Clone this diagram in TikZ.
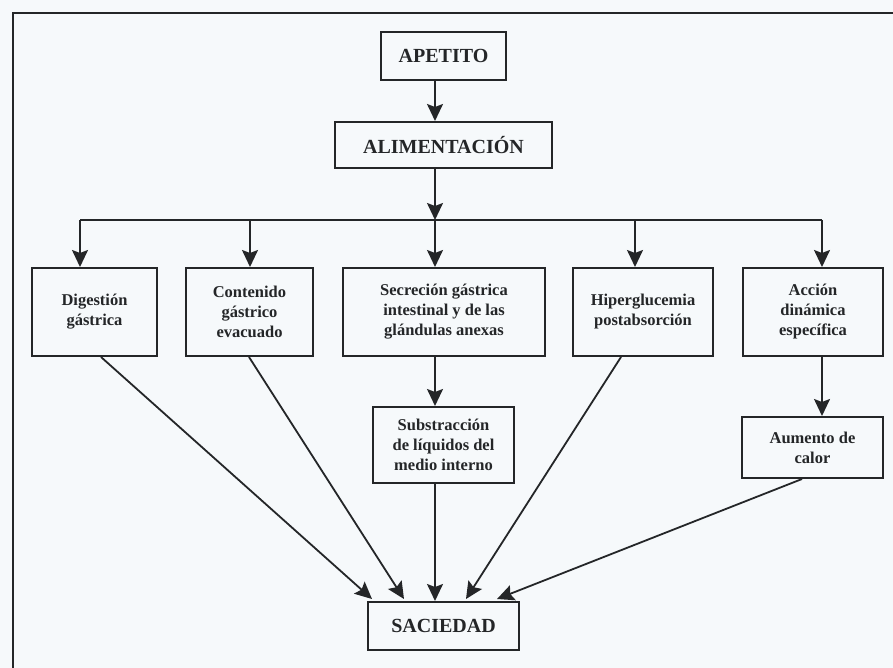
\documentclass[tikz,border=0pt]{standalone}
\usepackage{fontspec}
\setmainfont{Liberation Serif}
\usetikzlibrary{arrows.meta, positioning, calc}
\definecolor{scPaper}{RGB}{246,249,251}
\definecolor{scInk}{RGB}{36,38,40}

\begin{document}
\begin{tikzpicture}[x=1pt,y=-1pt,
  box/.style={draw=scInk,line width=2pt,text=scInk,align=center,inner sep=0pt,
              font=\fontsize{16.5}{20}\selectfont\bfseries},
  capbox/.style={box,font=\fontsize{20}{24}\selectfont\bfseries},
  wire/.style={draw=scInk,line width=1.8pt},
  arr/.style={wire,-{Stealth[length=17pt,width=16pt,inset=3pt]}}]

% ===== PAPER + FRAME =====
\fill[scPaper] (0,0) rectangle (893,668);
\useasboundingbox (0,0) rectangle (893,668);
\draw[scInk,line width=2.8pt] (893,13) -- (13,13) -- (13,668);

% ===== TOP =====
\node[capbox,minimum width=125,minimum height=48] (ape) at (443.5,56) {APETITO};
\node[capbox,minimum width=217,minimum height=46] (alim) at (443.5,145) {ALIMENTACIÓN};

% ===== MIDDLE ROW =====
\node[box,minimum width=125,minimum height=88] (dig) at (94.5,312) {Digestión\\gástrica};
\node[box,minimum width=127,minimum height=88] (cont) at (249.5,312) {Contenido\\gástrico\\evacuado};
\node[box,minimum width=202,minimum height=88] (secr) at (444,312)
   {Secreción gástrica\\intestinal y de las\\glándulas anexas};
\node[box,minimum width=140,minimum height=88] (hiper) at (643,312) {Hiperglucemia\\postabsorción};
\node[box,minimum width=140,minimum height=88] (accion) at (813,312) {Acción\\dinámica\\específica};

% ===== LOWER ROW =====
\node[box,minimum width=141,minimum height=76] (subs) at (443.5,445)
   {Substracción\\de líquidos del\\medio interno};
\node[box,minimum width=141,minimum height=61] (aum) at (812.5,447.5) {Aumento de\\calor};
\node[capbox,minimum width=151,minimum height=48] (sac) at (443.5,626) {SACIEDAD};

% bus
\coordinate (b1) at (80,220);
\coordinate (b2) at (250,220);
\coordinate (b3) at (435,220);
\coordinate (b4) at (635,220);
\coordinate (b5) at (822,220);
\draw[wire] (b1) -- (b5);

\draw[arr] (ape.south -| b3) -- (alim.north -| b3);
\draw[arr] (alim.south -| b3) -- (b3);
\draw[arr] (b1) -- (dig.north -| b1);
\draw[arr] (b2) -- (cont.north -| b2);
\draw[arr] (b3) -- (secr.north -| b3);
\draw[arr] (b4) -- (hiper.north -| b4);
\draw[arr] (b5) -- (accion.north -| b5);

\draw[arr] (secr.south -| b3) -- (subs.north -| b3);
\draw[arr] (accion.south -| b5) -- (aum.north -| b5);

% into SACIEDAD
\coordinate (d1) at ($(dig.south west)+(70,0)$);
\coordinate (d2) at ($(cont.south west)+(64,0)$);
\coordinate (d4) at ($(hiper.south west)+(49,0)$);
\coordinate (d5) at ($(aum.south west)+(61,0)$);
\coordinate (s1) at ($(sac.north west)+(5,-2)$);
\coordinate (s2) at ($(sac.north west)+(37,-2)$);
\coordinate (s4) at ($(sac.north west)+(99,-2)$);
\coordinate (s5) at ($(sac.north west)+(130,-2)$);
\draw[arr] (d1) -- (s1);
\draw[arr] (d2) -- (s2);
\draw[arr] (subs.south -| b3) -- (sac.north -| b3);
\draw[arr] (d4) -- (s4);
\draw[arr] (d5) -- (s5);
\end{tikzpicture}
\end{document}
